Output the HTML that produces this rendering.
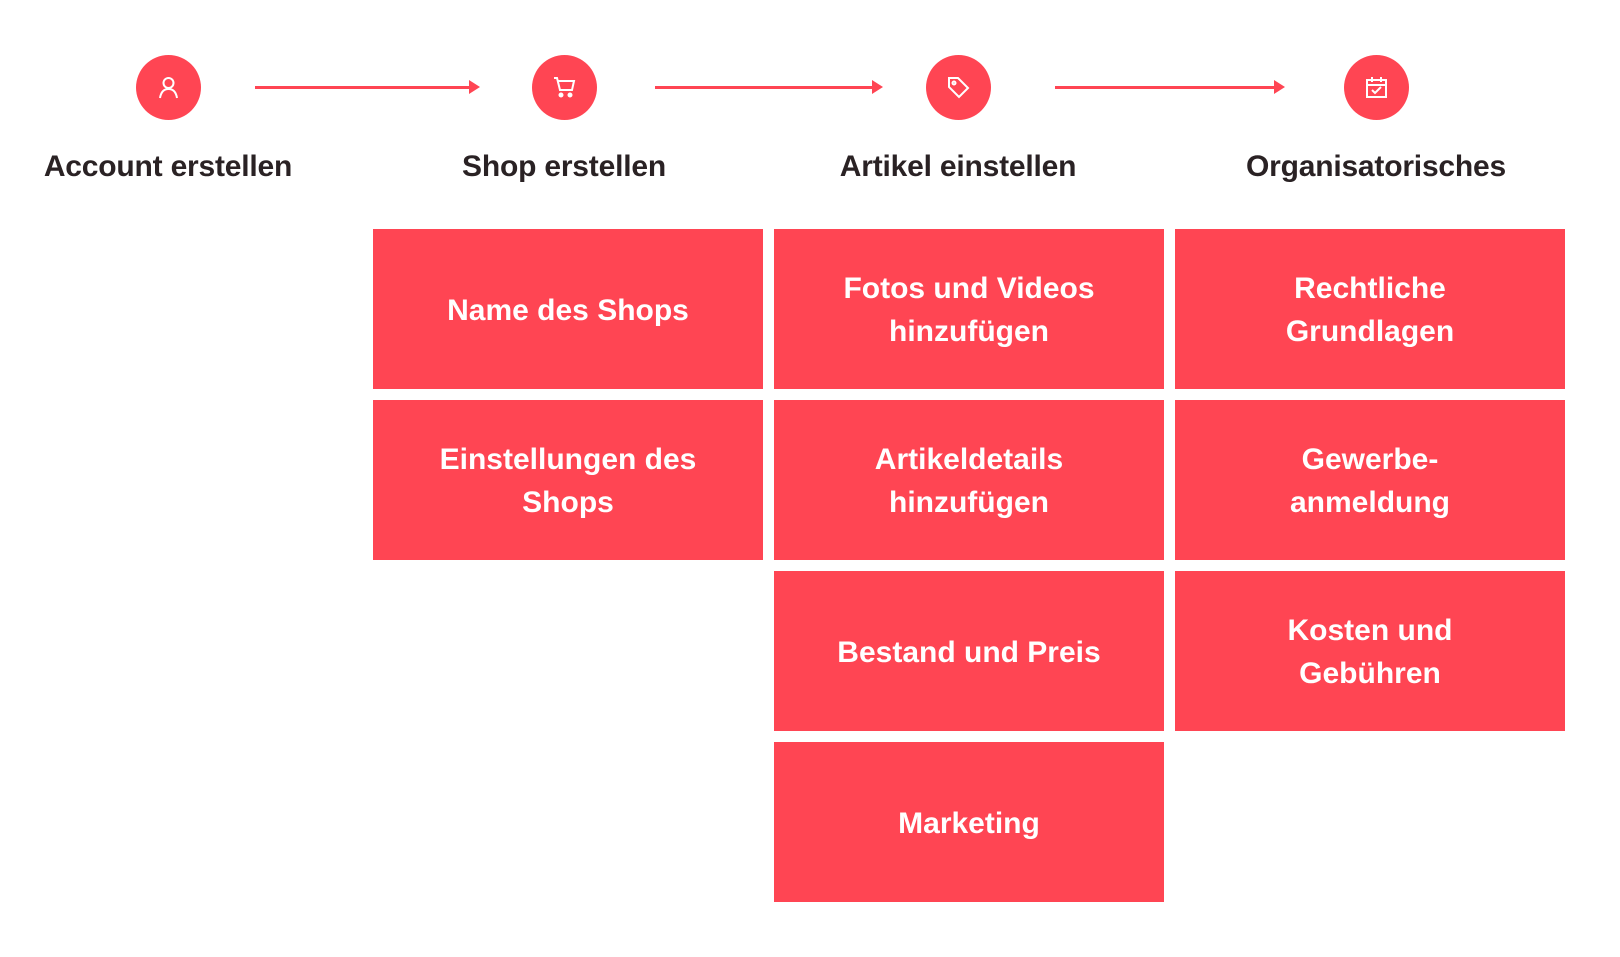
<!DOCTYPE html>
<html><head><meta charset="utf-8"><style>
body{margin:0;width:1620px;height:957px;background:#fff;position:relative;overflow:hidden;font-family:"Liberation Sans",sans-serif}
.c{position:absolute;width:65px;height:65px;border-radius:50%;background:#ff4553;top:55px}
.c svg{position:absolute;left:20px;top:20px}
.l{position:absolute;top:150px;width:360px;text-align:center;font-size:30px;font-weight:bold;color:#2a2224;letter-spacing:-0.2px}
.a{position:absolute;top:86px;height:3px;background:#ff4553}
.a:after{content:"";position:absolute;right:-10px;top:-6px;border-left:11px solid #ff4553;border-top:7.5px solid transparent;border-bottom:7.5px solid transparent}
.b{position:absolute;width:390px;height:160px;background:#ff4553;color:#fff;font-size:30px;font-weight:bold;display:flex;align-items:center;justify-content:center;text-align:center;line-height:43px;padding-top:2px;box-sizing:border-box}
</style></head><body>
<div class="c" style="left:136px"><svg width="25" height="25" viewBox="0 0 25 25" fill="none" stroke="#fff" stroke-width="2"><circle cx="12.5" cy="8" r="5"/><path d="M4 23c1-6 4-9 8.5-9s7.5 3 8.5 9"/></svg></div>
<div class="c" style="left:532px"><svg width="25" height="25" viewBox="0 0 25 25" fill="none" stroke="#fff" stroke-width="2"><path d="M2 3h3l3 12h12l2-9H6"/><circle cx="9" cy="20" r="1.5" fill="#fff"/><circle cx="18" cy="20" r="1.5" fill="#fff"/></svg></div>
<div class="c" style="left:926px"><svg width="25" height="25" viewBox="0 0 25 25" fill="none" stroke="#fff" stroke-width="2"><path d="M3 3h9l10 10-9 9L3 12z"/><circle cx="8" cy="8" r="1.5"/></svg></div>
<div class="c" style="left:1344px"><svg width="25" height="25" viewBox="0 0 25 25" fill="none" stroke="#fff" stroke-width="2"><rect x="3" y="5" width="19" height="17"/><path d="M3 10h19M8 2v5M17 2v5M8 15l3 3 6-6"/></svg></div>
<div class="a" style="left:255px;width:215px"></div>
<div class="a" style="left:655px;width:218px"></div>
<div class="a" style="left:1055px;width:220px"></div>
<div class="l" style="left:-12px">Account erstellen</div>
<div class="l" style="left:384px">Shop erstellen</div>
<div class="l" style="left:778px">Artikel einstellen</div>
<div class="l" style="left:1196px">Organisatorisches</div>
<div class="b" style="left:373px;top:229px">Name des Shops</div>
<div class="b" style="left:373px;top:400px">Einstellungen des<br>Shops</div>
<div class="b" style="left:774px;top:229px">Fotos und Videos<br>hinzufügen</div>
<div class="b" style="left:774px;top:400px">Artikeldetails<br>hinzufügen</div>
<div class="b" style="left:774px;top:571px">Bestand und Preis</div>
<div class="b" style="left:774px;top:742px">Marketing</div>
<div class="b" style="left:1175px;top:229px">Rechtliche<br>Grundlagen</div>
<div class="b" style="left:1175px;top:400px">Gewerbe-<br>anmeldung</div>
<div class="b" style="left:1175px;top:571px">Kosten und<br>Gebühren</div>
</body></html>
